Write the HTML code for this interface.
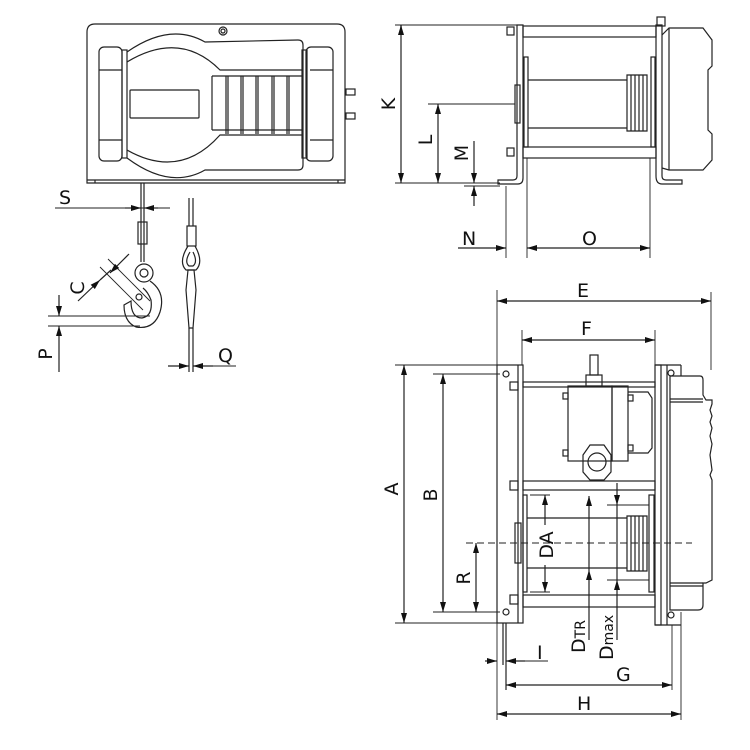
<!DOCTYPE html>
<html><head><meta charset="utf-8"><style>
html,body{margin:0;padding:0;background:#fff;}
svg{display:block}
text{font-family:"DejaVu Sans","Liberation Sans",sans-serif;fill:#111;font-size:19px}
</style></head><body>
<svg width="750" height="750" viewBox="0 0 750 750" xmlns="http://www.w3.org/2000/svg">
<defs>
<marker id="a" viewBox="0 0 10 6" refX="10" refY="3" markerWidth="10" markerHeight="6" orient="auto-start-reverse" markerUnits="userSpaceOnUse"><path d="M0,0 L10,3 L0,6 z" fill="#111"/></marker>
</defs>
<g fill="none" stroke="#222" stroke-width="1.2">
<!-- TOP-LEFT FRONT VIEW -->
<path d="M87,183 V32 Q87,24 95,24 H337 Q345,24 345,32 V183 Z"/>
<line x1="87" y1="180" x2="345" y2="180"/>
<line x1="95" y1="180" x2="95" y2="183"/><line x1="338" y1="180" x2="338" y2="183"/>
<circle cx="223" cy="31" r="4"/><circle cx="223" cy="31" r="2"/>
<rect x="99" y="47" width="23" height="114" rx="5"/>
<line x1="99" y1="70" x2="122" y2="70"/><line x1="99" y1="140" x2="122" y2="140"/>
<rect x="122" y="50" width="5" height="108"/>
<rect x="306" y="47" width="27" height="114" rx="5"/>
<line x1="310" y1="70" x2="333" y2="70"/><line x1="310" y1="140" x2="333" y2="140"/>
<rect x="302" y="50" width="5" height="108"/>
<path d="M127,52 Q170,22 205,42 L298,40 Q303,40 303,45 V165 Q303,170 298,170 L205,170 Q170,190 127,158"/>
<path d="M127,62 Q180,30 220,70 L303,70"/>
<path d="M127,150 Q180,180 220,135 L303,135"/>
<line x1="212" y1="76" x2="303" y2="76"/><line x1="212" y1="130" x2="303" y2="130"/>
<line x1="212" y1="76" x2="212" y2="130"/>
<line x1="226" y1="76" x2="226" y2="134"/><line x1="228" y1="76" x2="228" y2="134"/>
<line x1="241" y1="76" x2="241" y2="134"/><line x1="243" y1="76" x2="243" y2="134"/>
<line x1="256" y1="76" x2="256" y2="134"/><line x1="258" y1="76" x2="258" y2="134"/>
<line x1="272" y1="76" x2="272" y2="134"/><line x1="274" y1="76" x2="274" y2="134"/>
<line x1="287" y1="76" x2="287" y2="134"/><line x1="289" y1="76" x2="289" y2="134"/>
<rect x="130" y="90" width="69" height="28" rx="1"/>
<rect x="346" y="89" width="9" height="6"/><rect x="346" y="113" width="9" height="6"/>
<!-- rope & hook -->
<line x1="141" y1="183" x2="141" y2="262"/><line x1="144" y1="183" x2="144" y2="262"/>
<rect x="138" y="222" width="9" height="22"/>
<circle cx="144" cy="273" r="9"/><circle cx="144" cy="273" r="4"/>
<path d="M150,281 Q166,292 160,312 Q154,330 136,327 Q124,322 124,305 L131,301 Q131,318 142,318 Q153,316 151,300 Q148,292 143,288"/>
<ellipse cx="139" cy="297" rx="3" ry="3"/>
<line x1="55" y1="208" x2="170" y2="208" stroke-width="1"/>
<line x1="125" y1="208" x2="141" y2="208" marker-end="url(#a)"/>
<line x1="158" y1="208" x2="144" y2="208" marker-end="url(#a)"/>
<!-- C dim -->
<line x1="108" y1="259" x2="150" y2="301" stroke-width="0.9"/>
<line x1="100" y1="267" x2="143" y2="310" stroke-width="0.9"/>
<line x1="129" y1="254" x2="110" y2="273" marker-end="url(#a)"/>
<line x1="78" y1="301" x2="100" y2="280" marker-end="url(#a)"/>
<line x1="100" y1="280" x2="111" y2="270"/>
<!-- P dim -->
<line x1="48" y1="316" x2="150" y2="316" stroke-width="0.9"/>
<line x1="48" y1="326" x2="140" y2="326" stroke-width="0.9"/>
<line x1="59" y1="295" x2="59" y2="316" marker-end="url(#a)"/>
<line x1="59" y1="372" x2="59" y2="326" marker-end="url(#a)"/>
<!-- sling -->
<line x1="189" y1="198" x2="189" y2="226"/><line x1="193" y1="198" x2="193" y2="226"/>
<rect x="187" y="226" width="9" height="20"/>
<path d="M188,246 Q178,262 186,270 L196,270 Q204,262 195,246"/>
<path d="M190,252 Q184,262 189,266 L193,266 Q198,262 193,252"/>
<path d="M188,270 L186,290 L189,328 L193,328 L196,290 L194,270 Z"/>
<line x1="189" y1="328" x2="189" y2="372"/><line x1="193" y1="328" x2="193" y2="372"/>
<line x1="168" y1="366" x2="189" y2="366" marker-end="url(#a)"/>
<line x1="213" y1="366" x2="193" y2="366" marker-end="url(#a)"/>
<line x1="213" y1="366" x2="236" y2="366" stroke-width="0.9"/>

<!-- TOP-RIGHT SIDE VIEW -->
<line x1="395" y1="25" x2="517" y2="25" stroke-width="0.9"/>
<line x1="395" y1="183" x2="500" y2="183" stroke-width="0.9"/>
<line x1="401" y1="28" x2="401" y2="25"/>
<line x1="401" y1="104" x2="401" y2="25" marker-end="url(#a)"/>
<line x1="401" y1="104" x2="401" y2="183" marker-end="url(#a)"/>
<line x1="428" y1="104" x2="515" y2="104" stroke-width="0.9"/>
<line x1="438" y1="140" x2="438" y2="104" marker-end="url(#a)"/>
<line x1="438" y1="140" x2="438" y2="183" marker-end="url(#a)"/>
<line x1="464" y1="186" x2="500" y2="186" stroke-width="0.9"/>
<line x1="474" y1="141" x2="474" y2="183" marker-end="url(#a)"/>
<line x1="474" y1="206" x2="474" y2="186" marker-end="url(#a)"/>
<path d="M517,25 V176 Q517,180 513,180 H498 V184 H518 Q523,184 523,178 V25 Z"/>
<rect x="507" y="27" width="7" height="8"/><rect x="507" y="148" width="7" height="8"/>
<rect x="523" y="26" width="133" height="11"/>
<rect x="523" y="147" width="133" height="11"/>
<rect x="524" y="57" width="4" height="90"/><rect x="651" y="57" width="4" height="90"/>
<rect x="515" y="85" width="5" height="38"/>
<line x1="528" y1="80" x2="627" y2="80"/><line x1="528" y1="128" x2="627" y2="128"/>
<path d="M627,75 h20 v56 h-20 z M631,75 v56 M635,75 v56 M639,75 v56 M643,75 v56"/>
<path d="M656,25 V176 Q656,184 662,184 H682 V180 H666 Q662,180 662,176 V25 Z"/>
<rect x="657" y="17" width="8" height="9"/>
<path d="M662,35 L669,28 H703 L712,40 V66 L708,70 V130 L712,134 V160 L703,170 H669 L662,168"/>
<line x1="669" y1="28" x2="669" y2="170"/>
<line x1="506" y1="186" x2="506" y2="258" stroke-width="0.9"/>
<line x1="527" y1="158" x2="527" y2="258" stroke-width="0.9"/>
<line x1="650" y1="158" x2="650" y2="258" stroke-width="0.9"/>
<line x1="458" y1="248" x2="506" y2="248" marker-end="url(#a)"/>
<line x1="560" y1="248" x2="527" y2="248" marker-end="url(#a)"/>
<line x1="560" y1="248" x2="650" y2="248" marker-end="url(#a)"/>

<!-- BOTTOM PLAN VIEW -->
<line x1="497" y1="290" x2="497" y2="720" stroke-width="0.9"/>
<line x1="711" y1="292" x2="711" y2="370" stroke-width="0.9"/>
<line x1="522" y1="330" x2="522" y2="365" stroke-width="0.9"/>
<line x1="655" y1="330" x2="655" y2="365" stroke-width="0.9"/>
<line x1="600" y1="301" x2="497" y2="301" marker-end="url(#a)"/>
<line x1="600" y1="301" x2="711" y2="301" marker-end="url(#a)"/>
<line x1="590" y1="340" x2="522" y2="340" marker-end="url(#a)"/>
<line x1="590" y1="340" x2="655" y2="340" marker-end="url(#a)"/>
<line x1="395" y1="365" x2="522" y2="365" stroke-width="0.9"/>
<line x1="395" y1="623" x2="497" y2="623" stroke-width="0.9"/>
<line x1="433" y1="374" x2="500" y2="374" stroke-width="0.9"/>
<line x1="433" y1="612" x2="500" y2="612" stroke-width="0.9"/>
<line x1="404" y1="490" x2="404" y2="365" marker-end="url(#a)"/>
<line x1="404" y1="490" x2="404" y2="623" marker-end="url(#a)"/>
<line x1="443" y1="490" x2="443" y2="374" marker-end="url(#a)"/>
<line x1="443" y1="490" x2="443" y2="612" marker-end="url(#a)"/>
<line x1="476" y1="575" x2="476" y2="543" marker-end="url(#a)"/>
<line x1="476" y1="575" x2="476" y2="612" marker-end="url(#a)"/>
<rect x="497" y="365" width="26" height="258"/>
<line x1="518" y1="365" x2="518" y2="623"/>
<circle cx="506" cy="374" r="3"/><circle cx="506" cy="612" r="3"/>
<rect x="510" y="382" width="8" height="8"/><rect x="510" y="481" width="8" height="9"/><rect x="510" y="595" width="8" height="9"/>
<line x1="503" y1="623" x2="503" y2="665"/><line x1="506" y1="623" x2="506" y2="690"/>
<rect x="523" y="382" width="132" height="5"/>
<rect x="523" y="481" width="132" height="9"/>
<rect x="523" y="595" width="132" height="12"/>
<rect x="568" y="386" width="44" height="75"/>
<rect x="612" y="386" width="16" height="75"/>
<path d="M628,392 H648 L652,398 V448 L648,453 H628"/>
<rect x="590" y="355" width="8" height="20"/>
<rect x="586" y="375" width="16" height="11"/>
<path d="M583,455 L590,445 H604 L611,455 V472 L604,480 H590 L583,472 Z"/>
<circle cx="597" cy="462" r="9"/>
<rect x="563" y="393" width="5" height="6"/><rect x="563" y="450" width="5" height="6"/>
<rect x="628" y="395" width="5" height="6"/><rect x="628" y="445" width="5" height="6"/>
<rect x="523" y="495" width="4" height="97"/><rect x="649" y="495" width="5" height="97"/>
<rect x="515" y="523" width="6" height="40"/>
<line x1="527" y1="518" x2="627" y2="518"/><line x1="527" y1="568" x2="627" y2="568"/>
<line x1="607" y1="505" x2="649" y2="505" stroke-width="0.9"/><line x1="607" y1="580" x2="649" y2="580" stroke-width="0.9"/>
<path d="M627,516 h20 v55 h-20 z M631,516 v55 M635,516 v55 M639,516 v55 M643,516 v55"/>
<line x1="466" y1="543" x2="692" y2="543" stroke-dasharray="7,4" stroke-width="1"/>
<line x1="530" y1="495" x2="550" y2="495" stroke-width="0.9"/><line x1="530" y1="592" x2="550" y2="592" stroke-width="0.9"/>
<line x1="545" y1="525" x2="545" y2="495" marker-end="url(#a)"/>
<line x1="545" y1="565" x2="545" y2="592" marker-end="url(#a)"/>
<line x1="589" y1="520" x2="589" y2="496" marker-end="url(#a)"/>
<line x1="589" y1="520" x2="589" y2="570"/>
<line x1="589" y1="600" x2="589" y2="570" marker-end="url(#a)"/>
<line x1="589" y1="600" x2="589" y2="640"/>
<line x1="617" y1="483" x2="617" y2="505" marker-end="url(#a)"/>
<line x1="617" y1="505" x2="617" y2="580"/>
<line x1="617" y1="610" x2="617" y2="580" marker-end="url(#a)"/>
<line x1="617" y1="610" x2="617" y2="640"/>
<rect x="655" y="365" width="6" height="260"/>
<line x1="667" y1="365" x2="667" y2="625"/>
<line x1="655" y1="365" x2="681" y2="365"/><line x1="681" y1="365" x2="681" y2="376"/>
<line x1="655" y1="625" x2="681" y2="625"/><line x1="681" y1="612" x2="681" y2="720" stroke-width="0.9"/>
<line x1="672" y1="625" x2="672" y2="690" stroke-width="0.9"/>
<circle cx="671" cy="373" r="3"/><circle cx="671" cy="615" r="3"/>
<path d="M670,376 H700 Q703,376 703,380 V395 L706,400 H712 V404 L710,410 L712,416 L710,422 L712,428 L710,436 L712,444 L710,455 L712,470 L710,475 L712,480 V580 L706,583 H703 V605 Q703,610 698,610 H670 Z"/>
<line x1="670" y1="399" x2="703" y2="399"/><line x1="670" y1="402" x2="703" y2="402"/>
<line x1="670" y1="583" x2="703" y2="583"/><line x1="670" y1="586" x2="703" y2="586"/>
<line x1="485" y1="661" x2="497" y2="661" marker-end="url(#a)"/>
<line x1="525" y1="661" x2="506" y2="661" marker-end="url(#a)"/>
<line x1="525" y1="661" x2="548" y2="661" stroke-width="0.9"/>
<line x1="590" y1="685" x2="506" y2="685" marker-end="url(#a)"/>
<line x1="590" y1="685" x2="672" y2="685" marker-end="url(#a)"/>
<line x1="590" y1="714" x2="497" y2="714" marker-end="url(#a)"/>
<line x1="590" y1="714" x2="681" y2="714" marker-end="url(#a)"/>
</g>
<!-- labels -->
<text x="59" y="204">S</text>
<text x="84" y="288" transform="rotate(-90 84 288)" text-anchor="middle">C</text>
<text x="52" y="354" transform="rotate(-90 52 354)" text-anchor="middle">P</text>
<text x="218" y="362">Q</text>
<text x="395" y="104" transform="rotate(-90 395 104)" text-anchor="middle">K</text>
<text x="432" y="140" transform="rotate(-90 432 140)" text-anchor="middle">L</text>
<text x="468" y="153" transform="rotate(-90 468 153)" text-anchor="middle">M</text>
<text x="462" y="245">N</text>
<text x="582" y="245">O</text>
<text x="577" y="297">E</text>
<text x="581" y="335">F</text>
<text x="398" y="489" transform="rotate(-90 398 489)" text-anchor="middle">A</text>
<text x="437" y="495" transform="rotate(-90 437 495)" text-anchor="middle">B</text>
<text x="470" y="578" transform="rotate(-90 470 578)" text-anchor="middle">R</text>
<text x="553" y="545" transform="rotate(-90 553 545)" text-anchor="middle">DA</text>
<text x="585" y="653" transform="rotate(-90 585 653)" text-anchor="start">D<tspan font-size="14">TR</tspan></text>
<text x="613" y="660" transform="rotate(-90 613 660)" text-anchor="start">D<tspan font-size="14">max</tspan></text>
<text x="537" y="659">I</text>
<text x="616" y="681">G</text>
<text x="577" y="710">H</text>
</svg>
</body></html>
